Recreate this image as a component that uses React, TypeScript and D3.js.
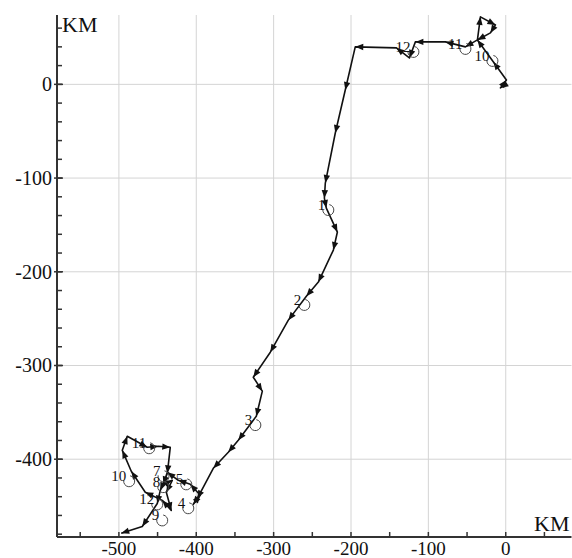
import React from "react";
import * as d3 from "d3";

// track, km east / km north of the start point
const trackX = [
  0, -6.9, 0.9, -15.9, -36.6, -32.7, -13.3, -19.8, -36.6, -52.1, -78.0, -116.8, -124.5, -141.3, -194.5,
  -207.4, -220.3, -233.2, -234.4, -231.9, -217.6, -222.8, -242.2, -257.7, -281.0, -304.3, -326.3, -314.6,
  -322.4, -345.7, -358.6, -378.0, -398.6, -403.8, -394.8, -407.7, -423.2, -437.4, -442.6, -431.0, -438.7,
  -432.3, -443.9, -465.9, -484.0, -495.6, -489.2, -463.3, -449.1, -433.6, -437.4, -446.5, -450.4, -469.8,
  -497.0,
];
const trackY = [
  0, -3.8, 4.7, 23.9, 47.4, 72.0, 63.4, 54.9, 47.4, 40.0, 45.3, 45.3, 28.2, 38.9, 40.0,
  -6.0, -51.9, -105.3, -121.4, -132.0, -157.6, -176.8, -211.0, -226.0, -251.6, -285.8, -312.5, -327.4,
  -354.1, -379.8, -392.6, -409.7, -441.7, -448.1, -438.5, -426.8, -422.5, -413.9, -426.8, -422.5, -435.3,
  -454.6, -443.9, -435.3, -412.9, -390.5, -375.5, -387.3, -386.2, -387.3, -415.1, -433.3, -447.2, -471.8,
  -479.0,
];

// day marks
const markLabels = ["10", "11", "12", "1", "2", "3", "4", "5", "7", "8", "9", "10", "11", "12"];
const markX = [-17.2, -52.1, -119.3, -229.3, -260.3, -323.6, -410.3, -412.9, -442.3, -442.6, -444.0, -486.7, -460.8, -450.4];
const markY = [25.0, 37.8, 34.6, -134.1, -235.4, -363.6, -452.3, -426.8, -418.2, -429.8, -465.3, -423.5, -388.3, -448.2];

const xMajor = [-500, -400, -300, -200, -100, 0];
const yMajor = [0, -100, -200, -300, -400];

const W = 572;
const H = 558;
const font = "'Liberation Serif', 'Times New Roman', serif";

export default function App() {
  const x = d3.scaleLinear().domain([-580, 85]).range([57, 571.5]);
  const y = d3.scaleLinear().domain([-483, 74]).range([537, 15]);
  const [x0, x1] = x.range();
  const [y0, y1] = y.range();

  const xMinor = d3.range(-550, 51, 50);
  const yMinor = d3.range(-480, 71, 20);

  const pts = trackX.map((v, i) => [x(v), y(trackY[i])] as [number, number]);
  const line = d3.line()(pts) || "";

  // arrowheads at the end of every segment
  const heads = pts.slice(1).map((p, i) => {
    const q = pts[i];
    const a = Math.atan2(p[1] - q[1], p[0] - q[0]);
    const len = 8, hw = 3.2;
    const bx = p[0] - len * Math.cos(a);
    const by = p[1] - len * Math.sin(a);
    const nx = -Math.sin(a) * hw, ny = Math.cos(a) * hw;
    return `M${p[0]},${p[1]}L${bx + nx},${by + ny}L${bx - nx},${by - ny}Z`;
  });

  const arcPath = (cx: number, cy: number) => {
    const r = 5.5;
    const a0 = (-80 * Math.PI) / 180;
    const a1 = (190 * Math.PI) / 180;
    return `M${cx + r * Math.cos(a0)},${cy + r * Math.sin(a0)}A${r},${r} 0 1 1 ${cx + r * Math.cos(a1)},${cy + r * Math.sin(a1)}`;
  };

  return (
    <svg width={W} height={H} style={{ position: "absolute", left: 0, top: 0, background: "#fff" }}>
      {/* grid */}
      <g stroke="#d4d4d4" strokeWidth={1}>
        {xMajor.map((d) => (
          <line key={"gx" + d} x1={x(d)} x2={x(d)} y1={y1} y2={y0} />
        ))}
        {yMajor.map((d) => (
          <line key={"gy" + d} x1={x0} x2={x1} y1={y(d)} y2={y(d)} />
        ))}
      </g>

      {/* axes */}
      <g stroke="#333" strokeWidth={1.5}>
        <line x1={x0} x2={x1} y1={y0} y2={y0} strokeWidth={2} />
        <line x1={x0} x2={x0} y1={y1} y2={y0} strokeWidth={2} />
        {xMinor.map((d) => (
          <line key={"tx" + d} x1={x(d)} x2={x(d)} y1={y0} y2={y0 - 5} />
        ))}
        {yMinor.map((d) => (
          <line key={"ty" + d} x1={x0} x2={x0 + 5} y1={y(d)} y2={y(d)} />
        ))}
        {yMajor.map((d) => (
          <line key={"tym" + d} x1={x0 - 3} x2={x0 + 6} y1={y(d)} y2={y(d)} />
        ))}
      </g>
      <g fontFamily={font} fill="#111">
        {xMajor.map((d) => (
          <text key={"lx" + d} x={x(d)} y={y0 + 18} textAnchor="middle" fontSize={19}>
            {d}
          </text>
        ))}
        {yMajor.map((d) => (
          <text key={"ly" + d} x={x0 - 5} y={y(d) + 7} textAnchor="end" fontSize={20}>
            {d}
          </text>
        ))}
      </g>
      <text x={62} y={32} fontFamily={font} fontSize={22} fill="#111">KM</text>
      <text x={534} y={531} fontFamily={font} fontSize={22} fill="#111">KM</text>

      {/* track */}
      <path d={line} fill="none" stroke="#111" strokeWidth={1.6} strokeLinejoin="round" />
      <g fill="#111">
        {heads.map((d, i) => (
          <path key={"h" + i} d={d} />
        ))}
      </g>

      {/* day marks */}
      <g>
        {markLabels.map((t, i) => {
          const cx = x(markX[i]);
          const cy = y(markY[i]);
          return (
            <g key={"m" + i}>
              <path d={arcPath(cx, cy)} fill="none" stroke="#444" strokeWidth={1} />
              <text x={cx - 3} y={cy} textAnchor="end" fontFamily={font} fontSize={15} fill="#111">
                {t}
              </text>
            </g>
          );
        })}
      </g>
    </svg>
  );
}
